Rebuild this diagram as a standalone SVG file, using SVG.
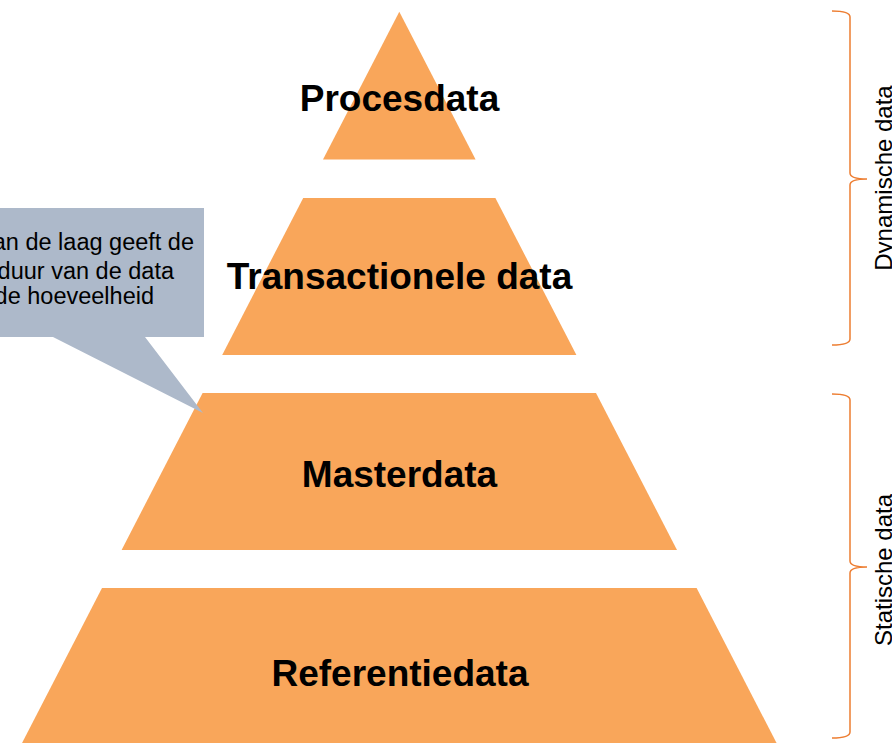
<svg xmlns="http://www.w3.org/2000/svg" width="892" height="743" viewBox="0 0 892 743">
<style>
.layer{fill:#F9A65A;stroke:none}
.lbl{font-family:"Liberation Sans",Arial,sans-serif;font-weight:bold;font-size:37px;fill:#000;text-anchor:middle}
.call{fill:#ADB9CA;stroke:none}
.ctext{font-family:"Liberation Sans",Arial,sans-serif;font-size:23.5px;fill:#000;text-anchor:end}
.brace{fill:none;stroke:#ED7D31;stroke-width:1.5}
.btext{font-family:"Liberation Sans",Arial,sans-serif;font-size:24px;fill:#000;text-anchor:middle}
</style>
<rect width="892" height="743" fill="#fff"/>
<g id="procesdata">
<polygon class="layer" points="399.3,11.7 475.6,159.5 323,159.5"/>
<text class="lbl" x="399.5" y="111">Procesdata</text>
</g>
<g id="transactionele-data">
<polygon class="layer" points="303.2,198 495.4,198 576.4,355 222.2,355"/>
<text class="lbl" x="399.5" y="289">Transactionele data</text>
</g>
<g id="masterdata">
<polygon class="layer" points="202.6,393 596,393 677,550 121.6,550"/>
<text class="lbl" x="399.5" y="487">Masterdata</text>
</g>
<g id="referentiedata">
<polygon class="layer" points="102,588 696.6,588 777.6,745 21,745"/>
<text class="lbl" x="400" y="686">Referentiedata</text>
</g>
<g id="callout">
<path class="call" d="M-10 208 H204 V337 H145 L203 413 L53 337 H-10 Z"/>
<text class="ctext" x="194" y="250">an de laag geeft de</text>
<text class="ctext" x="174" y="279">duur van de data</text>
<text class="ctext" x="154" y="304">de hoeveelheid</text>
</g>
<g id="dynamische-data">
<path class="brace" d="M832 11 Q850 11 850 17 V173 Q850 179 867 179 Q850 179 850 185 V339 Q850 345 832 345"/>
<text class="btext" transform="translate(891.5,178) rotate(-90)">Dynamische data</text>
</g>
<g id="statische-data">
<path class="brace" d="M832 394 Q850 394 850 400 V561 Q850 567 867 567 Q850 567 850 573 V732 Q850 738 832 738"/>
<text class="btext" transform="translate(891.5,570) rotate(-90)">Statische data</text>
</g>
<g id="connectors"></g>
</svg>
